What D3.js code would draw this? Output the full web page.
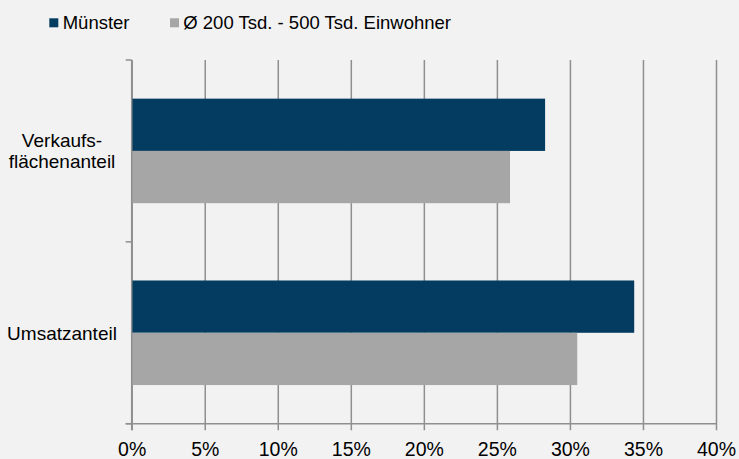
<!DOCTYPE html>
<html>
<head>
<meta charset="utf-8">
<script src="https://cdn.jsdelivr.net/npm/d3@7"></script>
<style>
  html, body { margin: 0; padding: 0; background: #f2f2f2; }
  svg { display: block; font-family: "Liberation Sans", Arial, sans-serif; }
</style>
</head>
<body>
<svg id="chart" width="739" height="459"></svg>
<script>
const categories = ["Verkaufs-\nflächenanteil", "Umsatzanteil"];
const seriesNames = ["Münster", "Ø 200 Tsd. - 500 Tsd. Einwohner"];
const muensterValues = [0.283, 0.344];
const averageValues = [0.259, 0.305];
const tickValues = [0, 0.05, 0.10, 0.15, 0.20, 0.25, 0.30, 0.35, 0.40];
const colors = ["#033c60", "#a6a6a6"];

(function () {
const svg = d3.select("#chart");
const mLeft = 131.7, mRight = 716, mTop = 60, mBottom = 423.7;
const gridColor = "#8f8f8f";

const x = d3.scaleLinear().domain([0, 0.4]).range([mLeft, mRight]);
const y = d3.scaleBand().domain(categories).range([mTop, mBottom])
  .paddingInner(0.425).paddingOuter(0.2125);
const ySub = d3.scaleBand().domain(seriesNames).range([0, y.bandwidth()]);

// vertical grid lines (extend below axis as ticks)
const xAxis = d3.axisBottom(x).tickValues(tickValues)
  .tickSize(-(mBottom - mTop)).tickSizeOuter(0)
  .tickFormat(d3.format(".0%"));
const gx = svg.append("g").attr("transform", `translate(0,${mBottom})`).call(xAxis);
gx.select(".domain").remove();
gx.selectAll(".tick line").attr("stroke", gridColor).attr("stroke-width", 1.5)
  .attr("y1", 6.5);
gx.selectAll(".tick text").attr("fill", "#000").attr("font-size", 19.5)
  .attr("font-family", "Liberation Sans, Arial, sans-serif")
  .attr("y", 32.5).attr("dy", null);

// bars
const data = categories.map((c, i) => ({ cat: c, vals: [muensterValues[i], averageValues[i]] }));
const groups = svg.append("g").selectAll("g").data(data).join("g")
  .attr("transform", d => `translate(0,${y(d.cat)})`);
groups.selectAll("rect").data(d => d.vals.map((v, j) => ({ v, s: seriesNames[j], j })))
  .join("rect")
  .attr("x", x(0))
  .attr("y", d => ySub(d.s))
  .attr("width", d => x(d.v) - x(0))
  .attr("height", ySub.bandwidth())
  .attr("fill", d => colors[d.j]);

// left axis with category boundary ticks
svg.append("line").attr("x1", mLeft).attr("x2", mLeft).attr("y1", mTop).attr("y2", mBottom + 6.5)
  .attr("stroke", gridColor).attr("stroke-width", 1.5);
const boundaries = [mTop, mTop + y.step(), mBottom];
svg.append("g").selectAll("line").data(boundaries).join("line")
  .attr("x1", mLeft - 6).attr("x2", mLeft).attr("y1", d => d).attr("y2", d => d)
  .attr("stroke", gridColor).attr("stroke-width", 1.5);

// bottom axis line
svg.append("line").attr("x1", mLeft - 6).attr("x2", mRight).attr("y1", mBottom).attr("y2", mBottom)
  .attr("stroke", gridColor).attr("stroke-width", 1.5);

// category labels
const labels = svg.append("g").selectAll("text").data(categories).join("text")
  .attr("text-anchor", "middle").attr("font-size", 19).attr("fill", "#000");
labels.each(function(d) {
  const lines = d.split("\n");
  const cy = y(d) + y.bandwidth() / 2;
  const lh = 21;
  const t = d3.select(this);
  lines.forEach((ln, i) => {
    t.append("tspan").attr("x", 62)
      .attr("y", cy + 7 - (lines.length - 1) * lh / 2 + i * lh)
      .text(ln);
  });
});

// legend
const legendPos = [{ sx: 49.3, tx: 62.7 }, { sx: 170, tx: 183.3 }];
const lg = svg.append("g").selectAll("g").data(seriesNames).join("g");
lg.append("rect").attr("x", (d, i) => legendPos[i].sx).attr("y", 18.3)
  .attr("width", 9).attr("height", 9).attr("fill", (d, i) => colors[i]);
lg.append("text").attr("x", (d, i) => legendPos[i].tx).attr("y", 28.5)
  .attr("font-size", 18.5).attr("fill", "#000").text(d => d);
})();
</script>
</body>
</html>
